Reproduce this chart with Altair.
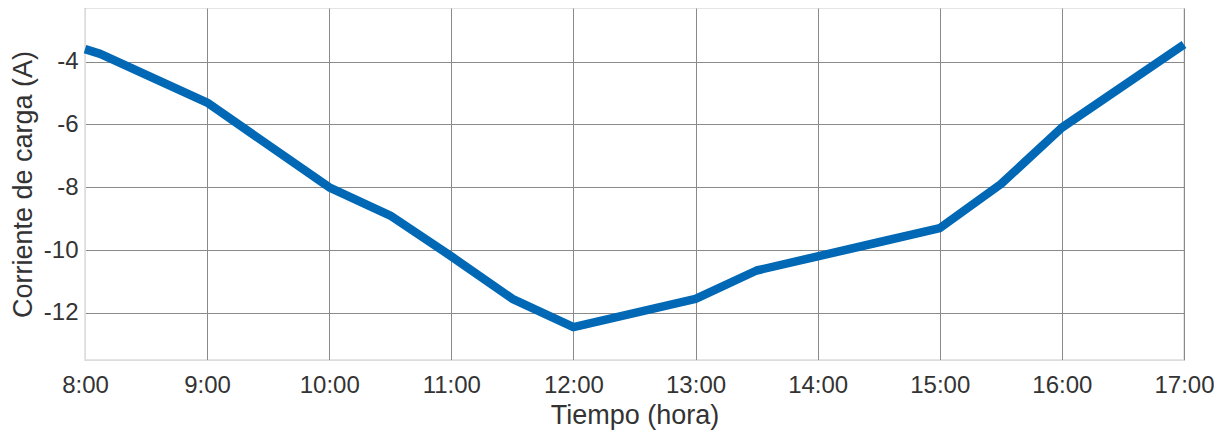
import altair as alt
import pandas as pd

hours = [8.0, 8.125, 9.0, 10.0, 10.5, 11.0, 11.5, 12.0, 13.0, 13.5, 14.0, 14.5, 15.0, 15.5, 16.0, 17.0]
current = [-3.6, -3.75, -5.3, -8.0, -8.9, -10.2, -11.55, -12.45, -11.55, -10.65, -10.2, -9.75, -9.3, -7.9, -6.1, -3.45]
tick_hours = [8, 9, 10, 11, 12, 13, 14, 15, 16, 17]
y_ticks = [-4, -6, -8, -10, -12]

df = pd.DataFrame({"hora": hours, "corriente": current})

font = "Liberation Sans"

chart = alt.Chart(df).mark_line(color="#0068b4", strokeWidth=8.5, strokeJoin="round").encode(
    x=alt.X("hora:Q",
            scale=alt.Scale(domain=[8, 17], nice=False, zero=False),
            axis=alt.Axis(values=tick_hours, labelExpr="datum.value + ':00'",
                          title="Tiempo (hora)", grid=True, ticks=False,
                          labelFontSize=24, titleFontSize=27, labelPadding=13, titlePadding=5,
                          labelColor="#333333", titleColor="#333333",
                          gridColor="#8a8a8a", gridWidth=1, domainColor="#dddddd",
                          labelFont=font, titleFont=font, titleFontWeight="normal",
                          labelFlush=False)),
    y=alt.Y("corriente:Q",
            scale=alt.Scale(domain=[-13.5, -2.29], nice=False, zero=False),
            axis=alt.Axis(values=y_ticks, labelExpr="'-' + abs(datum.value)",
                          title="Corriente de carga (A)", grid=True, ticks=False,
                          labelFontSize=24, titleFontSize=27, labelPadding=7, titlePadding=6,
                          labelColor="#333333", titleColor="#333333",
                          gridColor="#8a8a8a", gridWidth=1, domainColor="#dddddd",
                          labelFont=font, titleFont=font, titleFontWeight="normal")),
).properties(
    width=1099, height=352,
    autosize=alt.AutoSizeParams(type="none"),
    padding={"left": 77, "top": 0, "right": 30, "bottom": 70},
).configure_view(stroke="#dddddd", strokeWidth=1.5)

chart.save("out.html", embed_options={"renderer": "svg", "actions": False})
